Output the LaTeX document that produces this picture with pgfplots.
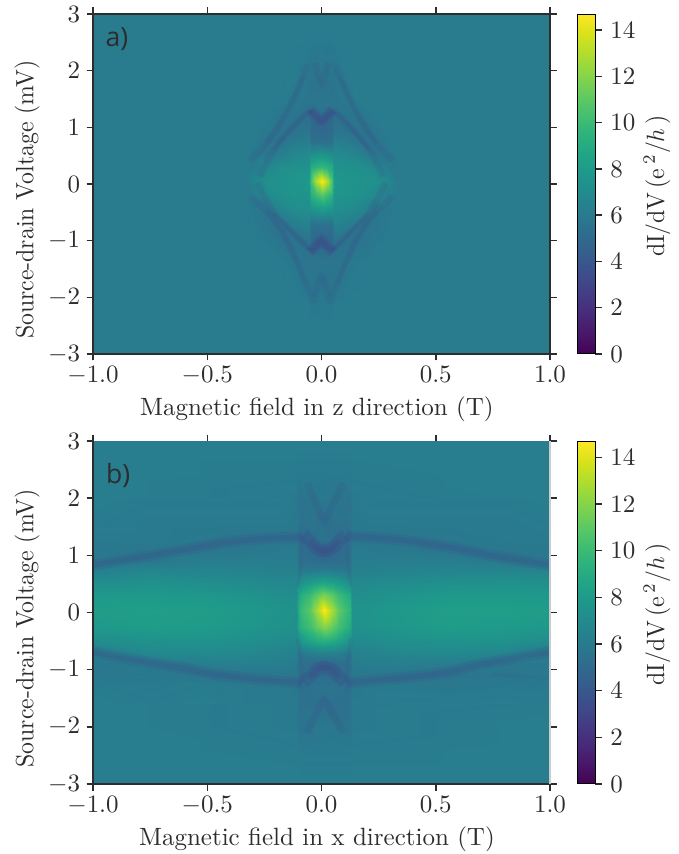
\documentclass[border=0pt]{standalone}
\usepackage{fontspec}
\newfontfamily\panelfont{Open Sans}
\usepackage{pgfplots}
\pgfplotsset{compat=1.18}
\definecolor{txt}{RGB}{45,45,45}
\definecolor{arc}{RGB}{62,74,137}
\pgfplotsset{
  heat/.style={scale only axis,width=182.8pt,view={0}{90},xmin=-1,xmax=1,ymin=-3,ymax=3,
    colormap name=viridis,point meta min=0,point meta max=14.7,
    xtick={-1,-0.5,0,0.5,1},ytick={-3,-2,-1,0,1,2,3},
    xticklabel pos=lower,yticklabel pos=left,tick pos=both,tick align=outside,
    x tick label style={/pgf/number format/.cd,fixed,fixed zerofill,precision=1},
    tick label style={color=txt},label style={color=txt},
    major tick length=2.6pt,tick style={line width=.6pt,color=txt},
    axis line style={line width=.8pt,color=txt},
    xticklabel shift=-1pt,yticklabel shift=-1pt,
    xlabel style={at={(axis description cs:.49,-.162)},anchor=center},
    ylabel style={at={(axis description cs:-.144,.454)},anchor=center},
    colorbar,
    colorbar style={scale only axis,at={(1.0591,0)},anchor=south west,width=7.2pt,
      ytick={0,2,4,6,8,10,12,14},ytick pos=right,yticklabel pos=right,tick align=outside,
      major tick length=2.6pt,
      ylabel={\scalebox{.95}[1]{dI/dV\,(e\,$^{2}$/$h$\,)}},
      ylabel style={at={(axis description cs:4.44,.494)},anchor=center,color=txt}},
  },
  w1/.style={no marks,smooth,color=arc,line width=2.6pt,opacity=.15},
  w2/.style={no marks,smooth,color=arc,line width=1.2pt,opacity=.2},
  w3/.style={no marks,smooth,color=arc,line width=1.5pt,opacity=.1},
  b1/.style={no marks,smooth,color=arc,line width=4.5pt,opacity=.16},
  b2/.style={no marks,smooth,color=arc,line width=2.2pt,opacity=.2},
}
\begin{document}
\begin{tikzpicture}
\path[use as bounding box] (0,0) rectangle (271.2pt,341.6pt);
\begin{axis}[heat,at={(37.2pt,200pt)},anchor=south west,height=136pt,
  xlabel={Magnetic field in z direction (T)},ylabel={\scalebox{.95}[1]{Source-drain Voltage (mV)}}]
\addplot3[surf,shader=interp,mesh/rows=2,mesh/cols=2] table[row sep=\\,header=false]
{-1 -3 6.1\\1 -3 6.1\\-1 3 6.1\\1 3 6.1\\};
\addplot3[surf,shader=interp,mesh/rows=23,mesh/cols=19] table[row sep=\\,header=false]
{-.33 -2.4 6.1\\-.29 -2.4 6.1\\-.24 -2.4 6.1\\-.18 -2.4 6.1\\-.12 -2.4 6.1\\-.07 -2.4 6.1\\-.053 -2.4 6.1\\-.047 -2.4 6\\-.025 -2.4 6\\0 -2.4 6\\.025 -2.4 6\\.047 -2.4 6\\.053 -2.4 6.1\\.07 -2.4 6.1\\.12 -2.4 6.1\\.18 -2.4 6.1\\.24 -2.4 6.1\\.29 -2.4 6.1\\.33 -2.4 6.1\\
-.33 -2.1 6.1\\-.29 -2.1 6.1\\-.24 -2.1 6.1\\-.18 -2.1 6.1\\-.12 -2.1 6.1\\-.07 -2.1 6.1\\-.053 -2.1 6\\-.047 -2.1 5.9\\-.025 -2.1 5.9\\0 -2.1 6\\.025 -2.1 5.9\\.047 -2.1 5.9\\.053 -2.1 6\\.07 -2.1 6.1\\.12 -2.1 6.1\\.18 -2.1 6.1\\.24 -2.1 6.1\\.29 -2.1 6.1\\.33 -2.1 6.1\\
-.33 -1.9 6.1\\-.29 -1.9 6.1\\-.24 -1.9 6.1\\-.18 -1.9 6.1\\-.12 -1.9 6.1\\-.07 -1.9 5.9\\-.053 -1.9 5.8\\-.047 -1.9 5.8\\-.025 -1.9 5.8\\0 -1.9 5.9\\.025 -1.9 5.8\\.047 -1.9 5.8\\.053 -1.9 5.8\\.07 -1.9 5.9\\.12 -1.9 6.1\\.18 -1.9 6.1\\.24 -1.9 6.1\\.29 -1.9 6.1\\.33 -1.9 6.1\\
-.33 -1.65 6.1\\-.29 -1.65 6.1\\-.24 -1.65 6.1\\-.18 -1.65 6.1\\-.12 -1.65 6\\-.07 -1.65 5.8\\-.053 -1.65 5.7\\-.047 -1.65 5.7\\-.025 -1.65 5.6\\0 -1.65 5.5\\.025 -1.65 5.6\\.047 -1.65 5.7\\.053 -1.65 5.7\\.07 -1.65 5.8\\.12 -1.65 6\\.18 -1.65 6.1\\.24 -1.65 6.1\\.29 -1.65 6.1\\.33 -1.65 6.1\\
-.33 -1.4 6.1\\-.29 -1.4 6.1\\-.24 -1.4 6.1\\-.18 -1.4 6.1\\-.12 -1.4 5.9\\-.07 -1.4 5.7\\-.053 -1.4 5.7\\-.047 -1.4 5.7\\-.025 -1.4 5.8\\0 -1.4 5.8\\.025 -1.4 5.8\\.047 -1.4 5.7\\.053 -1.4 5.7\\.07 -1.4 5.7\\.12 -1.4 5.9\\.18 -1.4 6.1\\.24 -1.4 6.1\\.29 -1.4 6.1\\.33 -1.4 6.1\\
-.33 -1.2 6.1\\-.29 -1.2 6.1\\-.24 -1.2 6.1\\-.18 -1.2 5.9\\-.12 -1.2 5.7\\-.07 -1.2 5.6\\-.053 -1.2 5.5\\-.047 -1.2 5.3\\-.025 -1.2 5.3\\0 -1.2 5.3\\.025 -1.2 5.3\\.047 -1.2 5.3\\.053 -1.2 5.5\\.07 -1.2 5.6\\.12 -1.2 5.7\\.18 -1.2 5.9\\.24 -1.2 6.1\\.29 -1.2 6.1\\.33 -1.2 6.1\\
-.33 -1.05 6.1\\-.29 -1.05 6.1\\-.24 -1.05 6\\-.18 -1.05 5.7\\-.12 -1.05 5.6\\-.07 -1.05 5.5\\-.053 -1.05 5.5\\-.047 -1.05 5\\-.025 -1.05 4.8\\0 -1.05 4.6\\.025 -1.05 4.8\\.047 -1.05 5\\.053 -1.05 5.5\\.07 -1.05 5.5\\.12 -1.05 5.6\\.18 -1.05 5.7\\.24 -1.05 6\\.29 -1.05 6.1\\.33 -1.05 6.1\\
-.33 -.9 6.1\\-.29 -.9 6.1\\-.24 -.9 5.9\\-.18 -.9 5.6\\-.12 -.9 5.6\\-.07 -.9 5.9\\-.053 -.9 5.9\\-.047 -.9 5.1\\-.025 -.9 5\\0 -.9 4.9\\.025 -.9 5\\.047 -.9 5.1\\.053 -.9 5.9\\.07 -.9 5.9\\.12 -.9 5.6\\.18 -.9 5.6\\.24 -.9 5.9\\.29 -.9 6.1\\.33 -.9 6.1\\
-.33 -.7 6.1\\-.29 -.7 6\\-.24 -.7 5.7\\-.18 -.7 5.7\\-.12 -.7 6.2\\-.07 -.7 6.5\\-.053 -.7 6.5\\-.047 -.7 5.5\\-.025 -.7 5.5\\0 -.7 5.6\\.025 -.7 5.5\\.047 -.7 5.5\\.053 -.7 6.5\\.07 -.7 6.5\\.12 -.7 6.2\\.18 -.7 5.7\\.24 -.7 5.7\\.29 -.7 6\\.33 -.7 6.1\\
-.33 -.45 6.1\\-.29 -.45 5.9\\-.24 -.45 5.8\\-.18 -.45 6.6\\-.12 -.45 7.1\\-.07 -.45 7.2\\-.053 -.45 7.2\\-.047 -.45 7.6\\-.025 -.45 7.8\\0 -.45 8\\.025 -.45 7.8\\.047 -.45 7.6\\.053 -.45 7.2\\.07 -.45 7.2\\.12 -.45 7.1\\.18 -.45 6.6\\.24 -.45 5.8\\.29 -.45 5.9\\.33 -.45 6.1\\
-.33 -.2 6\\-.29 -.2 6.2\\-.24 -.2 6.9\\-.18 -.2 7.3\\-.12 -.2 7.5\\-.07 -.2 7.6\\-.053 -.2 7.7\\-.047 -.2 9.3\\-.025 -.2 10\\0 -.2 10.8\\.025 -.2 10\\.047 -.2 9.3\\.053 -.2 7.7\\.07 -.2 7.6\\.12 -.2 7.5\\.18 -.2 7.3\\.24 -.2 6.9\\.29 -.2 6.2\\.33 -.2 6\\
-.33 .05 6.1\\-.29 .05 6.8\\-.24 .05 7.3\\-.18 .05 7.5\\-.12 .05 7.6\\-.07 .05 7.8\\-.053 .05 8\\-.047 .05 10.5\\-.025 .05 13\\0 .05 14.7\\.025 .05 13\\.047 .05 10.5\\.053 .05 8\\.07 .05 7.8\\.12 .05 7.6\\.18 .05 7.5\\.24 .05 7.3\\.29 .05 6.8\\.33 .05 6.1\\
-.33 .3 6\\-.29 .3 6.1\\-.24 .3 6.8\\-.18 .3 7.2\\-.12 .3 7.4\\-.07 .3 7.5\\-.053 .3 7.5\\-.047 .3 9\\-.025 .3 9.4\\0 .3 9.8\\.025 .3 9.4\\.047 .3 9\\.053 .3 7.5\\.07 .3 7.5\\.12 .3 7.4\\.18 .3 7.2\\.24 .3 6.8\\.29 .3 6.1\\.33 .3 6\\
-.33 .55 6.1\\-.29 .55 5.9\\-.24 .55 5.7\\-.18 .55 6.2\\-.12 .55 6.7\\-.07 .55 6.9\\-.053 .55 7\\-.047 .55 7\\-.025 .55 7.2\\0 .55 7.4\\.025 .55 7.2\\.047 .55 7\\.053 .55 7\\.07 .55 6.9\\.12 .55 6.7\\.18 .55 6.2\\.24 .55 5.7\\.29 .55 5.9\\.33 .55 6.1\\
-.33 .75 6.1\\-.29 .75 6\\-.24 .75 5.7\\-.18 .75 5.6\\-.12 .75 6\\-.07 .75 6.2\\-.053 .75 6.3\\-.047 .75 5.3\\-.025 .75 5.3\\0 .75 5.3\\.025 .75 5.3\\.047 .75 5.3\\.053 .75 6.3\\.07 .75 6.2\\.12 .75 6\\.18 .75 5.6\\.24 .75 5.7\\.29 .75 6\\.33 .75 6.1\\
-.33 .95 6.1\\-.29 .95 6.1\\-.24 .95 5.9\\-.18 .95 5.6\\-.12 .95 5.5\\-.07 .95 5.7\\-.053 .95 5.7\\-.047 .95 5.1\\-.025 .95 5\\0 .95 4.9\\.025 .95 5\\.047 .95 5.1\\.053 .95 5.7\\.07 .95 5.7\\.12 .95 5.5\\.18 .95 5.6\\.24 .95 5.9\\.29 .95 6.1\\.33 .95 6.1\\
-.33 1.1 6.1\\-.29 1.1 6.1\\-.24 1.1 6\\-.18 1.1 5.7\\-.12 1.1 5.6\\-.07 1.1 5.5\\-.053 1.1 5.5\\-.047 1.1 5\\-.025 1.1 4.9\\0 1.1 4.7\\.025 1.1 4.9\\.047 1.1 5\\.053 1.1 5.5\\.07 1.1 5.5\\.12 1.1 5.6\\.18 1.1 5.7\\.24 1.1 6\\.29 1.1 6.1\\.33 1.1 6.1\\
-.33 1.25 6.1\\-.29 1.25 6.1\\-.24 1.25 6.1\\-.18 1.25 5.9\\-.12 1.25 5.7\\-.07 1.25 5.5\\-.053 1.25 5.5\\-.047 1.25 5.2\\-.025 1.25 5.3\\0 1.25 5.4\\.025 1.25 5.3\\.047 1.25 5.2\\.053 1.25 5.5\\.07 1.25 5.5\\.12 1.25 5.7\\.18 1.25 5.9\\.24 1.25 6.1\\.29 1.25 6.1\\.33 1.25 6.1\\
-.33 1.45 6.1\\-.29 1.45 6.1\\-.24 1.45 6.1\\-.18 1.45 6.1\\-.12 1.45 5.9\\-.07 1.45 5.7\\-.053 1.45 5.7\\-.047 1.45 5.7\\-.025 1.45 5.8\\0 1.45 5.8\\.025 1.45 5.8\\.047 1.45 5.7\\.053 1.45 5.7\\.07 1.45 5.7\\.12 1.45 5.9\\.18 1.45 6.1\\.24 1.45 6.1\\.29 1.45 6.1\\.33 1.45 6.1\\
-.33 1.7 6.1\\-.29 1.7 6.1\\-.24 1.7 6.1\\-.18 1.7 6.1\\-.12 1.7 6\\-.07 1.7 5.8\\-.053 1.7 5.7\\-.047 1.7 5.6\\-.025 1.7 5.6\\0 1.7 5.5\\.025 1.7 5.6\\.047 1.7 5.6\\.053 1.7 5.7\\.07 1.7 5.8\\.12 1.7 6\\.18 1.7 6.1\\.24 1.7 6.1\\.29 1.7 6.1\\.33 1.7 6.1\\
-.33 1.95 6.1\\-.29 1.95 6.1\\-.24 1.95 6.1\\-.18 1.95 6.1\\-.12 1.95 6.1\\-.07 1.95 5.8\\-.053 1.95 5.8\\-.047 1.95 5.7\\-.025 1.95 5.7\\0 1.95 5.8\\.025 1.95 5.7\\.047 1.95 5.7\\.053 1.95 5.8\\.07 1.95 5.8\\.12 1.95 6.1\\.18 1.95 6.1\\.24 1.95 6.1\\.29 1.95 6.1\\.33 1.95 6.1\\
-.33 2.2 6.1\\-.29 2.2 6.1\\-.24 2.2 6.1\\-.18 2.2 6.1\\-.12 2.2 6.1\\-.07 2.2 6\\-.053 2.2 5.9\\-.047 2.2 5.8\\-.025 2.2 5.8\\0 2.2 6\\.025 2.2 5.8\\.047 2.2 5.8\\.053 2.2 5.9\\.07 2.2 6\\.12 2.2 6.1\\.18 2.2 6.1\\.24 2.2 6.1\\.29 2.2 6.1\\.33 2.2 6.1\\
-.33 2.5 6.1\\-.29 2.5 6.1\\-.24 2.5 6.1\\-.18 2.5 6.1\\-.12 2.5 6.1\\-.07 2.5 6.1\\-.053 2.5 6.1\\-.047 2.5 6\\-.025 2.5 6\\0 2.5 6\\.025 2.5 6\\.047 2.5 6\\.053 2.5 6.1\\.07 2.5 6.1\\.12 2.5 6.1\\.18 2.5 6.1\\.24 2.5 6.1\\.29 2.5 6.1\\.33 2.5 6.1\\};
% inner arcs
\addplot3[w1] coordinates {(.05,1.3,0) (.125,1.01,0) (.21,.6,0) (.27,.13,0)};
\addplot3[w2] coordinates {(.05,1.3,0) (.125,1.01,0) (.21,.6,0)};
\addplot3[w1] coordinates {(-.05,1.3,0) (-.125,1.01,0) (-.21,.6,0) (-.27,.13,0)};
\addplot3[w2] coordinates {(-.05,1.3,0) (-.125,1.01,0) (-.21,.6,0)};
\addplot3[w1] coordinates {(.05,-1.16,0) (.125,-.86,0) (.21,-.51,0) (.28,.02,0)};
\addplot3[w2] coordinates {(.05,-1.16,0) (.125,-.86,0) (.21,-.51,0)};
\addplot3[w1] coordinates {(-.05,-1.16,0) (-.125,-.86,0) (-.21,-.51,0) (-.28,.02,0)};
\addplot3[w2] coordinates {(-.05,-1.16,0) (-.125,-.86,0) (-.21,-.51,0)};
% outer arcs
\addplot3[w1] coordinates {(.06,2.1,0) (.08,1.89,0) (.125,1.48,0) (.18,1.08,0) (.24,.72,0) (.31,.42,0)};
\addplot3[w3] coordinates {(.08,1.89,0) (.125,1.48,0) (.18,1.08,0) (.24,.72,0)};
\addplot3[w1] coordinates {(-.06,2.1,0) (-.08,1.89,0) (-.125,1.48,0) (-.18,1.08,0) (-.24,.72,0) (-.31,.42,0)};
\addplot3[w3] coordinates {(-.08,1.89,0) (-.125,1.48,0) (-.18,1.08,0) (-.24,.72,0)};
\addplot3[w1] coordinates {(.03,-2.1,0) (.07,-1.75,0) (.112,-1.34,0) (.17,-.86,0) (.24,-.49,0) (.31,-.23,0)};
\addplot3[w3] coordinates {(.07,-1.75,0) (.112,-1.34,0) (.17,-.86,0) (.24,-.49,0)};
\addplot3[w1] coordinates {(-.03,-2.1,0) (-.07,-1.75,0) (-.112,-1.34,0) (-.17,-.86,0) (-.24,-.49,0) (-.31,-.23,0)};
\addplot3[w3] coordinates {(-.07,-1.75,0) (-.112,-1.34,0) (-.17,-.86,0) (-.24,-.49,0)};
% shapes in the central band
\addplot3[w1,line width=4pt,opacity=.3] coordinates {(-.05,1.3,0) (-.025,1.2,0) (0,1.12,0) (.025,1.2,0) (.05,1.3,0)};
\addplot3[w2,line width=2pt,opacity=.4] coordinates {(-.05,1.3,0) (-.025,1.2,0) (0,1.12,0) (.025,1.2,0) (.05,1.3,0)};
\addplot3[w1,line width=4pt,opacity=.3] coordinates {(-.05,-1.2,0) (-.02,-1.08,0) (0,-1,0) (.02,-1.08,0) (.05,-1.2,0)};
\addplot3[w2,line width=2pt,opacity=.4] coordinates {(-.05,-1.2,0) (-.02,-1.08,0) (0,-1,0) (.02,-1.08,0) (.05,-1.2,0)};
\addplot3[w1] coordinates {(-.03,2.13,0) (-.012,1.9,0) (0,1.78,0) (.012,1.9,0) (.03,2.13,0)};
\addplot3[w1] coordinates {(-.03,-2,0) (-.012,-1.75,0) (0,-1.64,0) (.012,-1.75,0) (.03,-2,0)};
\node[font=\panelfont\fontsize{10.6pt}{12pt}\selectfont,color=txt] at (rel axis cs:.0525,.926,0) {a)};
\end{axis}
\begin{axis}[heat,at={(37.2pt,28pt)},anchor=south west,height=137.2pt,
  xlabel={Magnetic field in x direction (T)},ylabel={\scalebox{.95}[1]{Source-drain Voltage (mV)}},
  axis line style={draw=none},
  after end axis/.code={\draw[line width=.8pt,color=txt] (rel axis cs:0,1,0)--(rel axis cs:0,0,0)--(rel axis cs:1,0,0);
    \draw[line width=.8pt,color=black!20] (rel axis cs:1,0,0)--(rel axis cs:1,1,0);}]
\addplot3[surf,shader=interp,mesh/rows=4,mesh/cols=7] table[row sep=\\,header=false]
{-1 -3 6.2\\-.11 -3 6.2\\-.098 -3 6.2\\.012 -3 6.2\\.123 -3 6.2\\.135 -3 6.2\\1 -3 6.2\\
-1 -2.4 6.2\\-.11 -2.4 6.1\\-.098 -2.4 6\\.012 -2.4 6\\.123 -2.4 6\\.135 -2.4 6.1\\1 -2.4 6.2\\
-1 -2 6.2\\-.11 -2 6\\-.098 -2 5.6\\.012 -2 5.9\\.123 -2 5.6\\.135 -2 6\\1 -2 6.2\\
-1 -1.6 6.2\\-.11 -1.6 6\\-.098 -1.6 5.5\\.012 -1.6 5.3\\.123 -1.6 5.5\\.135 -1.6 6\\1 -1.6 6.1\\};
\addplot3[surf,shader=interp,mesh/rows=3,mesh/cols=7] table[row sep=\\,header=false]
{-1 2 6.2\\-.11 2 6\\-.098 2 5.6\\.012 2 5.9\\.123 2 5.6\\.135 2 6\\1 2 6.2\\
-1 2.4 6.2\\-.11 2.4 6.1\\-.098 2.4 6\\.012 2.4 6\\.123 2.4 6\\.135 2.4 6.1\\1 2.4 6.2\\
-1 3 6.2\\-.11 3 6.2\\-.098 3 6.2\\.012 3 6.2\\.123 3 6.2\\.135 3 6.2\\1 3 6.2\\};
\addplot3[surf,shader=interp,mesh/rows=16,mesh/cols=21] table[row sep=\\,header=false]
{-1 -1.6 6.2\\-.75 -1.6 6.1\\-.5 -1.6 6.2\\-.3 -1.6 6\\-.17 -1.6 6\\-.11 -1.6 6\\-.098 -1.6 5.5\\-.08 -1.6 5.5\\-.05 -1.6 5.5\\-.02 -1.6 5.5\\.012 -1.6 5.3\\.045 -1.6 5.5\\.075 -1.6 5.5\\.105 -1.6 5.5\\.123 -1.6 5.5\\.135 -1.6 6\\.2 -1.6 6\\.35 -1.6 6.1\\.55 -1.6 6.1\\.8 -1.6 6.2\\1 -1.6 6.1\\
-1 -1.3 6.1\\-.75 -1.3 6\\-.5 -1.3 6.1\\-.3 -1.3 6\\-.17 -1.3 6\\-.11 -1.3 5.9\\-.098 -1.3 5.4\\-.08 -1.3 5.4\\-.05 -1.3 5.5\\-.02 -1.3 5.6\\.012 -1.3 5.7\\.045 -1.3 5.6\\.075 -1.3 5.5\\.105 -1.3 5.4\\.123 -1.3 5.4\\.135 -1.3 5.9\\.2 -1.3 6\\.35 -1.3 6\\.55 -1.3 5.9\\.8 -1.3 6\\1 -1.3 6\\
-1 -1.1 5.9\\-.75 -1.1 5.9\\-.5 -1.1 5.8\\-.3 -1.1 5.8\\-.17 -1.1 5.8\\-.11 -1.1 5.8\\-.098 -1.1 5.3\\-.08 -1.1 5.3\\-.05 -1.1 5.3\\-.02 -1.1 5.2\\.012 -1.1 5.1\\.045 -1.1 5.2\\.075 -1.1 5.3\\.105 -1.1 5.3\\.123 -1.1 5.3\\.135 -1.1 5.8\\.2 -1.1 5.8\\.35 -1.1 5.8\\.55 -1.1 5.7\\.8 -1.1 5.8\\1 -1.1 6\\
-1 -.9 5.9\\-.75 -.9 6\\-.5 -.9 6.2\\-.3 -.9 6.3\\-.17 -.9 6.2\\-.11 -.9 6\\-.098 -.9 5.3\\-.08 -.9 5.3\\-.05 -.9 5.2\\-.02 -.9 4.9\\.012 -.9 4.7\\.045 -.9 4.9\\.075 -.9 5.2\\.105 -.9 5.3\\.123 -.9 5.3\\.135 -.9 6\\.2 -.9 6.2\\.35 -.9 6.2\\.55 -.9 6.1\\.8 -.9 5.8\\1 -.9 5.9\\
-1 -.7 6.1\\-.75 -.7 6.8\\-.5 -.7 6.9\\-.3 -.7 6.8\\-.17 -.7 6.5\\-.11 -.7 6.4\\-.098 -.7 5.8\\-.08 -.7 6\\-.05 -.7 6.3\\-.02 -.7 6.4\\.012 -.7 6.5\\.045 -.7 6.4\\.075 -.7 6.3\\.105 -.7 6\\.123 -.7 5.8\\.135 -.7 6.4\\.2 -.7 6.5\\.35 -.7 6.8\\.55 -.7 6.9\\.8 -.7 6.7\\1 -.7 6\\
-1 -.5 7.1\\-.75 -.5 7.4\\-.5 -.5 7.5\\-.3 -.5 7.2\\-.17 -.5 7\\-.11 -.5 6.9\\-.098 -.5 7.4\\-.08 -.5 8\\-.05 -.5 8.5\\-.02 -.5 9\\.012 -.5 9.2\\.045 -.5 9\\.075 -.5 8.5\\.105 -.5 8\\.123 -.5 7.4\\.135 -.5 6.9\\.2 -.5 7\\.35 -.5 7.3\\.55 -.5 7.5\\.8 -.5 7.4\\1 -.5 7.1\\
-1 -.25 7.9\\-.75 -.25 8.1\\-.5 -.25 8\\-.3 -.25 7.7\\-.17 -.25 7.4\\-.11 -.25 7.3\\-.098 -.25 9\\-.08 -.25 9.6\\-.05 -.25 10.2\\-.02 -.25 11.2\\.012 -.25 12\\.045 -.25 11.2\\.075 -.25 10.2\\.105 -.25 9.6\\.123 -.25 9\\.135 -.25 7.4\\.2 -.25 7.5\\.35 -.25 7.8\\.55 -.25 8.1\\.8 -.25 8\\1 -.25 7.9\\
-1 .05 8.1\\-.75 .05 8.2\\-.5 .05 8.1\\-.3 .05 7.8\\-.17 .05 7.5\\-.11 .05 7.4\\-.098 .05 9.5\\-.08 .05 10.2\\-.05 .05 11\\-.02 .05 12.8\\.012 .05 14.7\\.045 .05 12.8\\.075 .05 11\\.105 .05 10.2\\.123 .05 9.7\\.135 .05 7.6\\.2 .05 7.6\\.35 .05 7.9\\.55 .05 8.2\\.8 .05 8.2\\1 .05 8.1\\
-1 .3 7.9\\-.75 .3 7.9\\-.5 .3 7.8\\-.3 .3 7.5\\-.17 .3 7.2\\-.11 .3 7.1\\-.098 .3 8.8\\-.08 .3 9.4\\-.05 .3 10\\-.02 .3 11\\.012 .3 11.7\\.045 .3 11\\.075 .3 10\\.105 .3 9.4\\.123 .3 8.9\\.135 .3 7.2\\.2 .3 7.3\\.35 .3 7.6\\.55 .3 7.9\\.8 .3 7.9\\1 .3 7.9\\
-1 .55 7.1\\-.75 .55 7.3\\-.5 .55 7.1\\-.3 .55 6.9\\-.17 .55 6.8\\-.11 .55 6.8\\-.098 .55 7\\-.08 .55 7.4\\-.05 .55 7.8\\-.02 .55 8.1\\.012 .55 8.3\\.045 .55 8.1\\.075 .55 7.8\\.105 .55 7.4\\.123 .55 7.1\\.135 .55 6.8\\.2 .55 6.9\\.35 .55 7\\.55 .55 7.2\\.8 .55 7.3\\1 .55 7.2\\
-1 .75 6.3\\-.75 .75 6.7\\-.5 .75 6.6\\-.3 .75 6.5\\-.17 .75 6.4\\-.11 .75 6.4\\-.098 .75 5.9\\-.08 .75 5.9\\-.05 .75 5.9\\-.02 .75 6\\.012 .75 6.1\\.045 .75 6\\.075 .75 5.9\\.105 .75 5.9\\.123 .75 5.9\\.135 .75 6.4\\.2 .75 6.4\\.35 .75 6.5\\.55 .75 6.6\\.8 .75 6.6\\1 .75 6.5\\
-1 .9 5.8\\-.75 .9 5.9\\-.5 .9 6.2\\-.3 .9 6.2\\-.17 .9 6.2\\-.11 .9 6.2\\-.098 .9 5.4\\-.08 .9 5.3\\-.05 .9 5.3\\-.02 .9 5.2\\.012 .9 5.1\\.045 .9 5.2\\.075 .9 5.3\\.105 .9 5.3\\.123 .9 5.4\\.135 .9 6.2\\.2 .9 6.2\\.35 .9 6.2\\.55 .9 6.2\\.8 .9 5.9\\1 .9 5.9\\
-1 1.1 5.9\\-.75 1.1 5.8\\-.5 1.1 5.8\\-.3 1.1 5.9\\-.17 1.1 6\\-.11 1.1 6\\-.098 1.1 5.3\\-.08 1.1 5.2\\-.05 1.1 5\\-.02 1.1 4.7\\.012 1.1 4.5\\.045 1.1 4.7\\.075 1.1 5\\.105 1.1 5.2\\.123 1.1 5.3\\.135 1.1 6\\.2 1.1 6\\.35 1.1 5.9\\.55 1.1 5.8\\.8 1.1 5.8\\1 1.1 5.9\\
-1 1.3 6\\-.75 1.3 6\\-.5 1.3 5.9\\-.3 1.3 5.8\\-.17 1.3 5.8\\-.11 1.3 5.8\\-.098 1.3 5.3\\-.08 1.3 5.2\\-.05 1.3 5.3\\-.02 1.3 5.5\\.012 1.3 5.6\\.045 1.3 5.5\\.075 1.3 5.3\\.105 1.3 5.2\\.123 1.3 5.3\\.135 1.3 5.8\\.2 1.3 5.8\\.35 1.3 5.8\\.55 1.3 5.9\\.8 1.3 6\\1 1.3 6\\
-1 1.6 6.1\\-.75 1.6 6\\-.5 1.6 6\\-.3 1.6 6\\-.17 1.6 6\\-.11 1.6 5.9\\-.098 1.6 5.6\\-.08 1.6 5.5\\-.05 1.6 5.6\\-.02 1.6 5.5\\.012 1.6 5.3\\.045 1.6 5.5\\.075 1.6 5.6\\.105 1.6 5.5\\.123 1.6 5.6\\.135 1.6 5.9\\.2 1.6 6\\.35 1.6 6\\.55 1.6 6\\.8 1.6 6\\1 1.6 6.1\\
-1 2 6.2\\-.75 2 6.1\\-.5 2 6.1\\-.3 2 6.1\\-.17 2 6.1\\-.11 2 6\\-.098 2 5.6\\-.08 2 5.6\\-.05 2 5.7\\-.02 2 5.8\\.012 2 5.9\\.045 2 5.8\\.075 2 5.7\\.105 2 5.6\\.123 2 5.6\\.135 2 6\\.2 2 6.1\\.35 2 6.1\\.55 2 6.1\\.8 2 6.1\\1 2 6.2\\};
% main dark bands
\addplot3[b1] coordinates {(-1,.83,0) (-.82,.95,0) (-.61,1.09,0) (-.45,1.21,0) (-.26,1.29,0) (-.085,1.32,0)};
\addplot3[b2] coordinates {(-1,.83,0) (-.82,.95,0) (-.61,1.09,0) (-.45,1.21,0) (-.26,1.29,0) (-.085,1.32,0)};
\addplot3[b1] coordinates {(-1,-.69,0) (-.82,-.83,0) (-.61,-.97,0) (-.45,-1.09,0) (-.26,-1.18,0) (-.085,-1.23,0)};
\addplot3[b2] coordinates {(-1,-.69,0) (-.82,-.83,0) (-.61,-.97,0) (-.45,-1.09,0) (-.26,-1.18,0) (-.085,-1.23,0)};
\addplot3[b1] coordinates {(.11,1.34,0) (.34,1.27,0) (.55,1.15,0) (.74,1,0) (1,.83,0)};
\addplot3[b2] coordinates {(.11,1.34,0) (.34,1.27,0) (.55,1.15,0) (.74,1,0) (1,.83,0)};
\addplot3[b1] coordinates {(.11,-1.23,0) (.34,-1.15,0) (.55,-1.04,0) (.74,-.87,0) (1,-.69,0)};
\addplot3[b2] coordinates {(.11,-1.23,0) (.34,-1.15,0) (.55,-1.04,0) (.74,-.87,0) (1,-.69,0)};
\addplot3[w3] coordinates {(.75,-1.08,0) (1,-1.16,0)};
% shapes in the central band
\addplot3[b1,line width=5pt,opacity=.3] coordinates {(-.08,1.35,0) (-.05,1.25,0) (-.02,1.12,0) (.012,1.08,0) (.045,1.12,0) (.075,1.25,0) (.105,1.35,0)};
\addplot3[b2,opacity=.3] coordinates {(-.05,1.25,0) (-.02,1.12,0) (.012,1.08,0) (.045,1.12,0) (.075,1.25,0)};
\addplot3[b1,line width=5pt,opacity=.3] coordinates {(-.08,-1.22,0) (-.05,-1.12,0) (-.02,-1,0) (.012,-.96,0) (.045,-1,0) (.075,-1.12,0) (.105,-1.22,0)};
\addplot3[b2,opacity=.3] coordinates {(-.05,-1.12,0) (-.02,-1,0) (.012,-.96,0) (.045,-1,0) (.075,-1.12,0)};
\addplot3[b1,line width=3pt] coordinates {(-.06,2.26,0) (-.02,1.85,0) (.012,1.62,0) (.045,1.85,0) (.095,2.26,0)};
\addplot3[b1,line width=3pt] coordinates {(-.065,-2.1,0) (-.02,-1.75,0) (.012,-1.53,0) (.045,-1.75,0) (.095,-2.1,0)};
\addplot3[w3] coordinates {(-.08,1.35,0) (-.095,.7,0) (-.105,.45,0)};
\addplot3[w3] coordinates {(.105,1.35,0) (.12,.7,0) (.13,.45,0)};
\addplot3[w3] coordinates {(-.08,-1.22,0) (-.095,-.7,0) (-.105,-.45,0)};
\addplot3[w3] coordinates {(.105,-1.22,0) (.12,-.7,0) (.13,-.45,0)};
\node[font=\panelfont\fontsize{10.6pt}{12pt}\selectfont,color=txt] at (rel axis cs:.055,.9,0) {b)};
\end{axis}
\end{tikzpicture}
\end{document}
